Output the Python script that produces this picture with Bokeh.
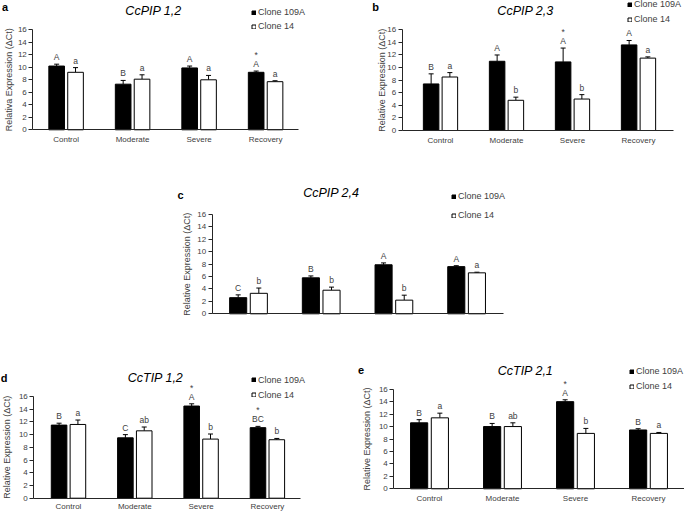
import math
from bokeh.plotting import figure
from bokeh.models import (Range1d, FixedTicker, Label, Legend, LegendItem, Whisker,
                          TeeHead, ColumnDataSource, Spacer, LinearAxis)
from bokeh.layouts import column, row
from bokeh.core.properties import value
from bokeh.embed import file_html
from bokeh.resources import INLINE

# ---------------- data ----------------
categories = ["Control", "Moderate", "Severe", "Recovery"]
series_names = ["Clone 109A", "Clone 14"]
y_ticks = [0, 2, 4, 6, 8, 10, 12, 14, 16]

# a  CcPIP 1,2
a_109A = [10.2, 7.3, 9.9, 9.2]
a_109A_err = [0.3, 0.6, 0.3, 0.2]
a_14 = [9.2, 8.1, 8.0, 7.7]
a_14_err = [0.75, 0.7, 0.7, 0.15]
a_109A_groups = ["A", "B", "A", "A"]
a_14_groups = ["a", "a", "a", "a"]
a_sig = ["", "", "", "*"]

# b  CcPIP 2,3
b_109A = [7.4, 11.0, 10.9, 13.6]
b_109A_err = [1.6, 1.0, 2.2, 0.7]
b_14 = [8.5, 4.8, 5.0, 11.5]
b_14_err = [0.7, 0.5, 0.7, 0.2]
b_109A_groups = ["B", "A", "A", "A"]
b_14_groups = ["a", "b", "b", "a"]
b_sig = ["", "", "*", ""]

# c  CcPIP 2,4
c_109A = [2.6, 5.8, 7.9, 7.6]
c_109A_err = [0.45, 0.3, 0.3, 0.15]
c_14 = [3.3, 3.8, 2.2, 6.6]
c_14_err = [0.85, 0.5, 0.8, 0.1]
c_109A_groups = ["C", "B", "A", "A"]
c_14_groups = ["b", "b", "b", "a"]
c_sig = ["", "", "", ""]

# d  CcTIP 1,2
d_109A = [11.5, 9.5, 14.5, 11.1]
d_109A_err = [0.3, 0.5, 0.35, 0.2]
d_14 = [11.6, 10.6, 9.3, 9.2]
d_14_err = [0.7, 0.6, 0.8, 0.2]
d_109A_groups = ["B", "C", "A", "BC"]
d_14_groups = ["a", "ab", "b", "b"]
d_sig = ["", "", "*", "*"]

# e  CcTIP 2,1
e_109A = [10.6, 10.0, 14.0, 9.45]
e_109A_err = [0.5, 0.5, 0.3, 0.2]
e_14 = [11.4, 10.0, 8.9, 8.9]
e_14_err = [0.75, 0.6, 0.8, 0.15]
e_109A_groups = ["B", "B", "A", "B"]
e_14_groups = ["a", "ab", "b", "a"]
e_sig = ["", "", "*", ""]

# ---------------- layout geometry (canvas pixels) ----------------
GEO_A = dict(ox=0, oy=0, w=340, h=150, ax_left=32.3, ax_right=298.3, y0=129.3, y16=29.3,
             c0=65.6, dc=66.5, tag=(4.5, 6), title=(153, 10), legend=(251, 11.7, 26.0),
             ylab=8.3, xstand=5)
GEO_B = dict(ox=340, oy=0, w=344, h=150, ax_left=401.7, ax_right=673, y0=130, y16=29.3,
             c0=440, dc=66, tag=(375, 6.5), title=(525, 10.5), legend=(627, 4.8, 19.3),
             ylab=381, xstand=5)
GEO_C = dict(ox=170, oy=150, w=350, h=172, ax_left=211.7, ax_right=503.3, y0=313.3, y16=214,
             c0=248, dc=72.7, tag=(180, 194.5), title=(330.8, 192), legend=(451, 196.7, 215.3),
             ylab=186, xstand=0)
GEO_D = dict(ox=0, oy=322, w=340, h=189, ax_left=33.3, ax_right=300, y0=497.7, y16=396,
             c0=68, dc=66.3, tag=(3.5, 377.5), title=(155, 377), legend=(251, 379.7, 394.7),
             ylab=6.5, xstand=4)
GEO_E = dict(ox=340, oy=322, w=344, h=189, ax_left=393.3, ax_right=684, y0=488.3, y16=388.7,
             c0=429, dc=73, tag=(360.5, 369.5), title=(525, 370), legend=(629, 370.8, 386.3),
             ylab=366, xstand=5)

FONT = "Liberation Sans"
TXT = "#404040"
AX = "#262626"
BAR_W = 0.235
OFF = 0.142
ROW_H = 11


def panel(geo, title, tag, ylab, v1, e1, v2, e2, g1, g2, sig, show_x=True):
    ox, oy, w, h = geo["ox"], geo["oy"], geo["w"], geo["h"]
    c0, dc = geo["c0"], geo["dc"]
    y0 = geo["y0"]
    ppu = (geo["y0"] - geo["y16"]) / 16.0

    def dx(px):
        return (px - c0) / dc

    def dy(py):
        return (y0 - py) / ppu

    p = figure(width=w, height=h, x_range=Range1d(dx(ox), dx(ox + w)),
               y_range=Range1d(dy(oy + h), dy(oy)),
               output_backend="svg", toolbar_location=None, title=None,
               x_axis_location=None, y_axis_location=None,
               min_border_left=0, min_border_right=0, min_border_top=0, min_border_bottom=0)
    p.outline_line_color = None
    p.background_fill_color = "white"
    p.border_fill_color = "white"
    p.xgrid.visible = False
    p.ygrid.visible = False

    # y axis, drawn at the start of the category axis
    ya = LinearAxis(fixed_location=dx(geo["ax_left"]), bounds=(0, 16),
                    ticker=FixedTicker(ticks=y_ticks))
    ya.axis_line_color = AX
    ya.major_tick_line_color = AX
    ya.major_tick_out = 4
    ya.major_tick_in = 0
    ya.minor_tick_line_color = None
    ya.major_label_standoff = 2
    ya.major_label_text_font = FONT
    ya.major_label_text_font_size = "8px"
    ya.major_label_text_color = TXT
    p.add_layout(ya, "left")

    # category axis at value 0
    xa = LinearAxis(fixed_location=0, bounds=(dx(geo["ax_left"]), dx(geo["ax_right"])),
                    ticker=FixedTicker(ticks=list(range(len(categories)))))
    xa.axis_line_color = AX
    xa.major_tick_line_color = None
    xa.major_tick_out = 0
    xa.major_tick_in = 0
    xa.minor_tick_line_color = None
    xa.major_label_standoff = geo["xstand"]
    xa.major_label_text_font = FONT
    xa.major_label_text_color = TXT
    if show_x:
        xa.major_label_overrides = {i: c for i, c in enumerate(categories)}
        xa.major_label_text_font_size = "8px"
    else:
        xa.major_label_overrides = {i: "" for i in range(len(categories))}
        xa.major_label_text_font_size = "1px"
    p.add_layout(xa, "below")

    xi = list(range(len(categories)))
    src1 = ColumnDataSource(dict(x=[i - OFF for i in xi], top=v1,
                                 upper=[v + e for v, e in zip(v1, e1)], grp=g1, sig=sig))
    src2 = ColumnDataSource(dict(x=[i + OFF for i in xi], top=v2,
                                 upper=[v + e for v, e in zip(v2, e2)], grp=g2))
    r1 = p.vbar(x="x", top="top", bottom=0, width=BAR_W, source=src1,
                fill_color="black", line_color="black", line_width=1)
    r2 = p.vbar(x="x", top="top", bottom=0, width=BAR_W, source=src2,
                fill_color="white", line_color="black", line_width=1)

    for src in (src1, src2):
        p.add_layout(Whisker(source=src, base="x", upper="upper", lower="top", dimension="height",
                             upper_head=TeeHead(size=5, line_color="black", line_width=1),
                             lower_head=None, line_color="black", line_width=1))
        p.text(x="x", y="upper", text="grp", source=src, text_align="center",
               text_baseline="bottom", y_offset=-2, text_font=value(FONT),
               text_font_size="8.5px", text_color=TXT)
    p.text(x="x", y="upper", text="sig", source=src1, text_align="center",
           text_baseline="bottom", y_offset=-11, text_font=value(FONT),
           text_font_size="8.5px", text_color=TXT)

    # legend (location measured from the frame's bottom-left corner)
    sq, rc1, rc2 = geo["legend"]
    spacing = int(round(rc2 - rc1 - ROW_H))
    bottom = rc2 + ROW_H / 2.0
    leg = Legend(items=[LegendItem(label=series_names[0], renderers=[r1]),
                        LegendItem(label=series_names[1], renderers=[r2])],
                 location=(sq - ox, oy + h - bottom), orientation="vertical",
                 padding=0, margin=0, spacing=spacing, glyph_width=5, glyph_height=5,
                 label_height=ROW_H, label_standoff=2, label_text_font=FONT,
                 label_text_font_size="9px", label_text_color=TXT,
                 border_line_color=None, background_fill_alpha=0)
    p.add_layout(leg)

    # title, panel letter, y-axis label
    tx, ty = geo["title"]
    p.add_layout(Label(x=dx(tx), y=dy(ty), text=title, text_align="center",
                       text_baseline="middle", text_font=FONT, text_font_style="italic",
                       text_font_size="12.5px", text_color="black"))
    gx, gy = geo["tag"]
    p.add_layout(Label(x=dx(gx), y=dy(gy), text=tag, text_align="center",
                       text_baseline="middle", text_font=FONT, text_font_style="bold",
                       text_font_size="11px", text_color="black"))
    p.add_layout(Label(x=dx(geo["ylab"]), y=8, text=ylab, angle=math.pi / 2,
                       text_align="center", text_baseline="middle", text_font=FONT,
                       text_font_size="9px", text_color=TXT))
    return p


YL = "Relative Expression (\u0394Ct)"
YL_A = "Relativa Expression (\u0394Ct)"

pa = panel(GEO_A, "CcPIP 1,2", "a", YL_A, a_109A, a_109A_err, a_14, a_14_err,
           a_109A_groups, a_14_groups, a_sig)
pb = panel(GEO_B, "CcPIP 2,3", "b", YL, b_109A, b_109A_err, b_14, b_14_err,
           b_109A_groups, b_14_groups, b_sig)
pc = panel(GEO_C, "CcPIP 2,4", "c", YL, c_109A, c_109A_err, c_14, c_14_err,
           c_109A_groups, c_14_groups, c_sig, show_x=False)
pd = panel(GEO_D, "CcTIP 1,2", "d", YL, d_109A, d_109A_err, d_14, d_14_err,
           d_109A_groups, d_14_groups, d_sig)
pe = panel(GEO_E, "CcTIP 2,1", "e", YL, e_109A, e_109A_err, e_14, e_14_err,
           e_109A_groups, e_14_groups, e_sig)

layout = column(row(pa, pb),
                row(Spacer(width=GEO_C["ox"], height=GEO_C["h"]), pc),
                row(pd, pe))

open("out.html", "w").write(file_html(layout, INLINE))
